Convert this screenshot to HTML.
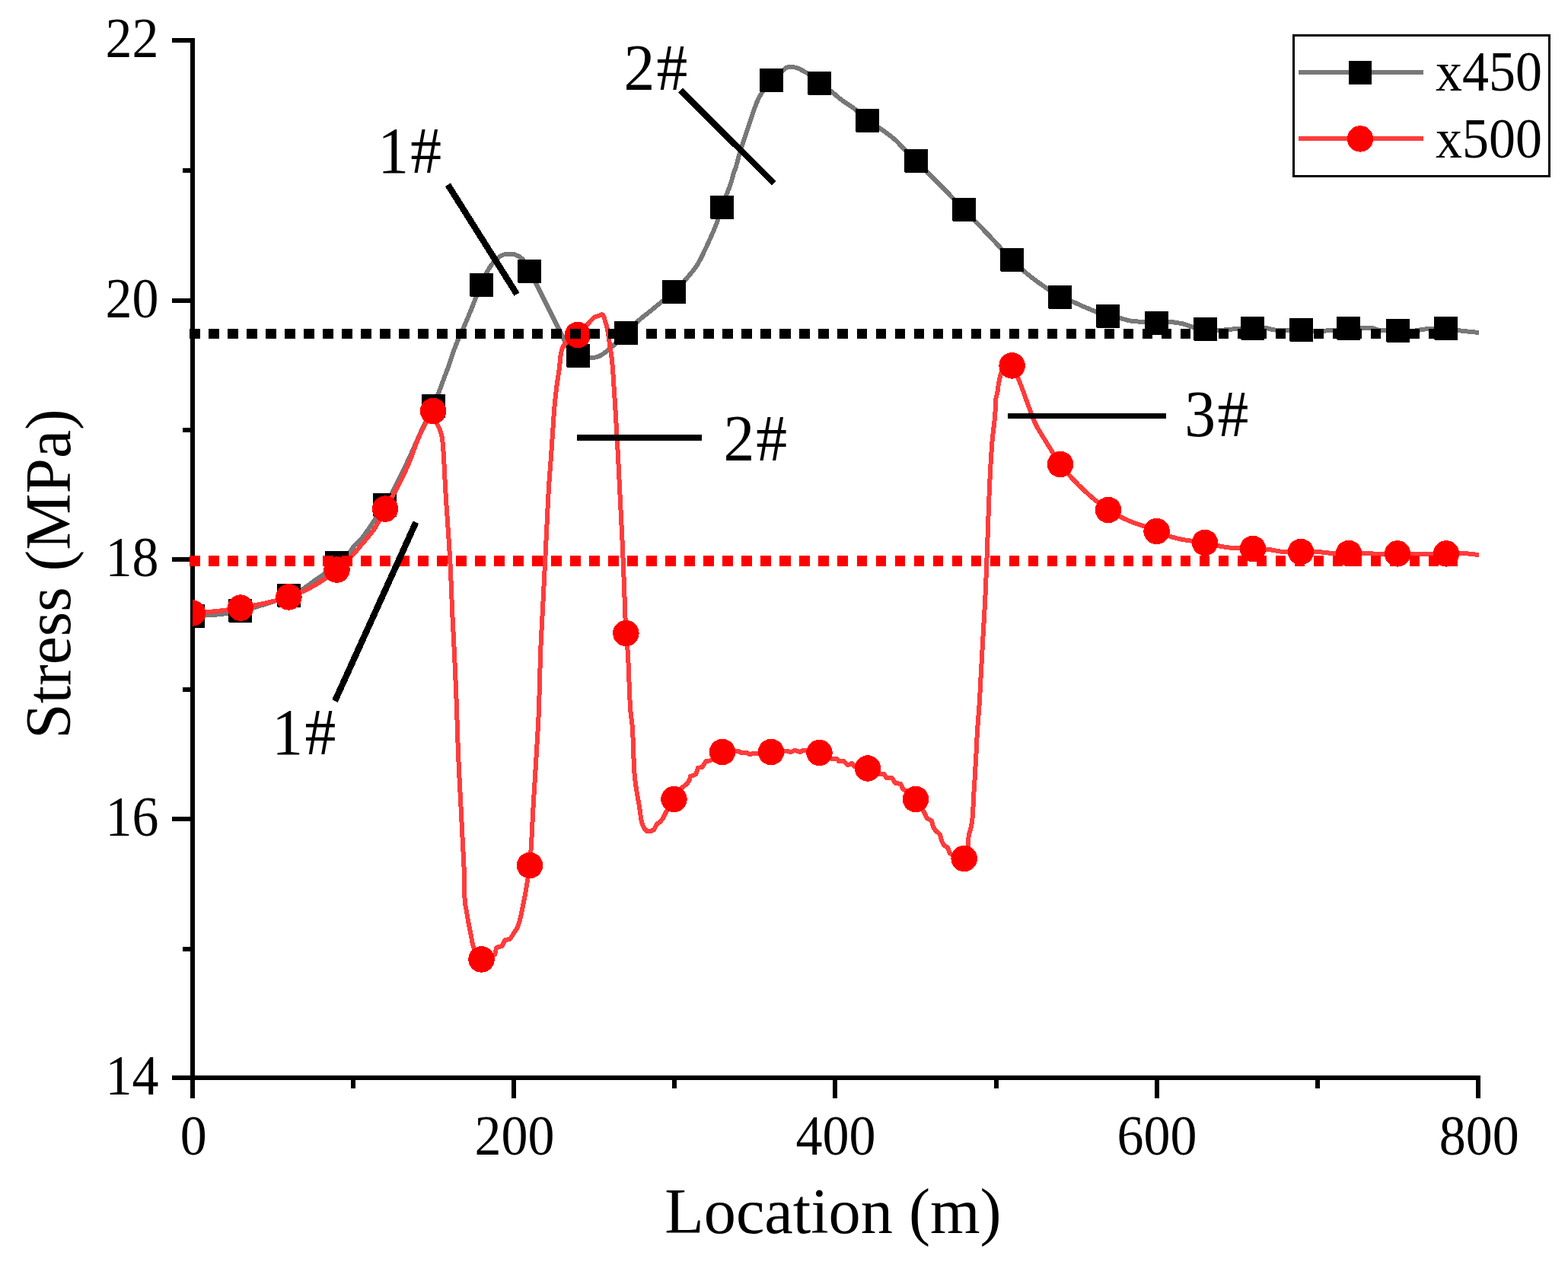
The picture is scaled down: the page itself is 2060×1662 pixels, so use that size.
<!DOCTYPE html>
<html lang="en"><head><meta charset="utf-8"><title>Stress vs Location</title>
<style>
html,body{margin:0;padding:0;background:#fff;}
body{width:2060px;height:1662px;overflow:hidden;}
svg{display:block;}
text{font-family:"Liberation Serif","Times New Roman",Times,serif;fill:#000;}
</style></head><body>
<svg xmlns="http://www.w3.org/2000/svg" width="2060" height="1662" viewBox="0 0 2060 1662" shape-rendering="crispEdges">
<rect x="0" y="0" width="2060" height="1662" fill="#fff"/>
<g fill="#000" shape-rendering="crispEdges">
<rect x="250" y="50" width="6" height="1393"/>
<rect x="226" y="1413" width="1719" height="6"/>
<rect x="226" y="50" width="30" height="6"/>
<rect x="240" y="221" width="16" height="6"/>
<rect x="226" y="392" width="30" height="6"/>
<rect x="240" y="562" width="16" height="6"/>
<rect x="226" y="732" width="30" height="6"/>
<rect x="240" y="903" width="16" height="6"/>
<rect x="226" y="1073" width="30" height="6"/>
<rect x="240" y="1244" width="16" height="6"/>
<rect x="226" y="1413" width="30" height="6"/>
<rect x="250" y="1413" width="6" height="30"/>
<rect x="461" y="1413" width="6" height="17"/>
<rect x="672" y="1413" width="6" height="30"/>
<rect x="883" y="1413" width="6" height="17"/>
<rect x="1094" y="1413" width="6" height="30"/>
<rect x="1306" y="1413" width="6" height="17"/>
<rect x="1517" y="1413" width="6" height="30"/>
<rect x="1728" y="1413" width="6" height="17"/>
<rect x="1939" y="1413" width="6" height="30"/>
</g>
<defs><clipPath id="plot"><rect x="253" y="0" width="1800" height="1416"/></clipPath></defs>
<g clip-path="url(#plot)">
<polyline points="253,809.4 255,809.28 257,809.17 259,809.07 261,808.97 263,808.86 265,808.76 267,808.66 269,808.56 271,808.45 273,808.34 275,808.22 277,808.1 279,807.96 281,807.82 283,807.67 285,807.5 286.94,807.32 288.88,807.12 290.81,806.89 292.75,806.65 294.69,806.38 296.62,806.1 298.56,805.8 300.5,805.48 302.44,805.16 304.38,804.82 306.31,804.47 308.25,804.11 310.19,803.74 312.12,803.36 314.06,802.98 316,802.6 318,802.19 320,801.76 322,801.3 324,800.82 326,800.32 328,799.81 330,799.28 332,798.73 334,798.17 336,797.6 338,797.01 340,796.42 342,795.82 344,795.22 346,794.61 348,794 349.97,793.39 351.94,792.77 353.91,792.14 355.88,791.5 357.84,790.85 359.81,790.18 361.78,789.51 363.75,788.82 365.72,788.11 367.69,787.4 369.66,786.67 371.62,785.92 373.59,785.16 375.56,784.39 377.53,783.6 379.5,782.8 381.33,782.04 383.17,781.26 385,780.46 386.83,779.64 388.67,778.79 390.5,777.9 392.33,776.98 394.17,776.01 396,775 397.88,773.88 399.75,772.66 401.62,771.36 403.5,770 405.38,768.61 407.25,767.22 409.12,765.84 411,764.5 412.88,763.2 414.75,761.91 416.62,760.63 418.5,759.35 420.38,758.06 422.25,756.74 424.12,755.39 426,754 427.83,752.59 429.67,751.13 431.5,749.64 433.33,748.12 435.17,746.58 437,745.04 438.83,743.51 440.67,741.99 442.5,740.5 444.4,739.01 446.3,737.57 448.2,736.12 450.1,734.61 452,733 453.88,731.32 455.75,729.54 457.62,727.63 459.5,725.5 461,723.43 462.5,721.11 464,719 466,716.66 468,714.53 470,712.52 472,710.5 473.5,709.04 475,707.5 476.8,705.35 478.6,702.98 480.4,700.47 482.2,697.88 484,695.3 485.7,692.83 487.4,690.27 489.1,687.69 490.8,685.12 492.5,682.6 494.39,679.92 496.27,677.34 498.16,674.79 500.04,672.23 501.93,669.62 503.81,666.89 505.7,664 507.49,661.09 509.27,658.04 511.06,654.88 512.85,651.61 514.64,648.27 516.42,644.88 518.21,641.45 520,638 521.89,634.32 523.78,630.58 525.67,626.77 527.56,622.91 529.44,619 531.33,615.05 533.22,611.06 535.11,607.04 537,603 538.89,598.9 540.78,594.73 542.67,590.5 544.56,586.23 546.44,581.94 548.33,577.65 550.22,573.38 552.11,569.16 554,565 555.88,560.95 557.75,556.96 559.62,553.02 561.5,549.09 563.38,545.15 565.25,541.17 567.12,537.13 569,533 570.62,529.38 572.25,525.71 573.88,521.93 575.5,518 577.17,513.69 578.85,509.16 580.53,504.56 582.2,500 584.08,495.04 585.95,490.12 587.83,485.14 589.7,480 591.4,475.08 593.1,469.96 594.8,464.86 596.5,460 598.17,455.48 599.83,451.13 601.5,447 603.42,442.56 605.35,438.38 607.28,434.25 609.2,430 610.9,426.1 612.6,422.15 614.3,418.15 616,414.1 617.7,410 619.7,405.05 621.7,399.97 623.7,394.91 625.7,390 627.4,386 629.1,382.09 630.8,378.22 632.5,374.3 634.12,370.37 635.75,366.34 637.38,362.46 639,359 641,355.29 643,351.96 645,349 646.67,346.8 648.33,344.81 650,343 652,340.93 654,339.04 656,337.5 658,336.26 660,335.21 662,334.5 664,334.02 666,333.65 668,333.5 670,333.57 672,333.75 674,334 676,334.44 678,335.15 680,336 682,337.03 684,338.35 686,340 687.67,341.87 689.33,344.27 691,347 692.5,349.93 694,353.29 695.5,356.5 697.2,359.74 698.9,362.81 700.6,365.82 702.3,368.85 704,372 706,375.9 708,379.91 710,383.97 712,388 713.8,391.6 715.6,395.2 717.4,398.8 719.2,402.4 721,406 722.8,409.6 724.6,413.2 726.4,416.8 728.2,420.4 730,424 732,428.02 734,432.06 736,436.07 738,440 740,443.94 742,447.89 744,451.64 746,455 748,458.08 750,460.87 752,463 753.88,464.46 755.75,465.69 757.62,466.7 759.5,467.5 761.38,468.17 763.25,468.75 765.12,469.21 767,469.5 769,469.69 771,469.85 773,469.96 775,470 776.75,469.96 778.5,469.85 780.25,469.7 782,469.5 783.75,469.15 785.5,468.55 787.25,467.81 789,467 791,465.9 793,464.54 795,463.04 797,461.5 799,459.94 801,458.3 803,456.59 805,454.82 807,453 809,451.09 811,449.08 813,447.03 815,445 816.88,443.12 818.75,441.25 820.62,439.38 822.5,437.5 824.44,435.54 826.38,433.55 828.31,431.55 830.25,429.55 832.19,427.58 834.12,425.65 836.06,423.78 838,422 840,420.25 842,418.56 844,416.93 846,415.33 848,413.76 850,412.19 852,410.61 854,409 856,407.37 858,405.74 860,404.1 862,402.46 864,400.83 866,399.21 868,397.59 870,396 871.94,394.5 873.88,393.06 875.81,391.64 877.75,390.22 879.69,388.78 881.62,387.28 883.56,385.69 885.5,384 887.44,382.17 889.38,380.22 891.31,378.16 893.25,376.02 895.19,373.81 897.12,371.56 899.06,369.28 901,367 902.88,364.81 904.75,362.64 906.62,360.45 908.5,358.21 910.38,355.88 912.25,353.42 914.12,350.81 916,348 918,344.69 920,341.04 922,337.1 924,332.96 926,328.69 928,324.34 930,320 932,315.67 934,311.27 936,306.75 938,302.07 940,297.17 942,292 943.62,287.4 945.25,282.42 946.88,277.36 948.5,272.5 950.5,266.89 952.5,261.44 954.5,256 956.5,250.72 958.5,245.44 960.5,239.6 962.1,233.8 963.7,228 965.45,223.18 967.2,218.25 968.45,213.46 969.7,208.5 971.54,202.17 973.38,196.23 975.22,190.53 977.06,184.97 978.9,179.4 980.5,174.65 982.1,169.9 983.77,164.7 985.43,159.41 987.1,154.3 988.53,150.12 989.97,146.08 991.4,142.2 993,137.93 994.6,133.83 996.2,130.2 997.93,126.88 999.67,123.94 1001.4,121.2 1003.33,118.23 1005.27,115.34 1007.2,112.56 1009.13,109.95 1011.07,107.55 1013,105.4 1014.99,103.43 1016.98,101.63 1018.96,99.97 1020.95,98.4 1022.94,96.88 1024.93,95.39 1026.91,93.87 1028.9,92.3 1030.27,91.08 1031.63,89.87 1033,89 1035,88.18 1037,87.8 1038.67,87.86 1040.33,88.01 1042,88.2 1043.77,88.46 1045.53,88.84 1047.3,89.3 1049.1,89.94 1050.9,90.79 1052.7,91.77 1054.5,92.8 1056.3,93.8 1057.9,94.65 1059.5,95.53 1061.1,96.5 1063.02,97.86 1064.95,99.4 1066.88,101.07 1068.8,102.81 1070.72,104.57 1072.65,106.31 1074.58,107.97 1076.5,109.5 1078.44,110.91 1080.38,112.23 1082.31,113.51 1084.25,114.75 1086.19,116 1088.12,117.27 1090.06,118.59 1092,120 1094,121.57 1096,123.25 1098,124.98 1100,126.71 1102,128.4 1104,130 1106,131.49 1108,132.91 1110,134.27 1112,135.6 1114,136.91 1116,138.24 1118,139.59 1120,140.98 1122,142.45 1124,144 1125.94,145.64 1127.88,147.44 1129.81,149.33 1131.75,151.26 1133.69,153.17 1135.62,155.02 1137.56,156.75 1139.5,158.3 1141.44,159.68 1143.38,160.95 1145.31,162.14 1147.25,163.29 1149.19,164.41 1151.12,165.56 1153.06,166.74 1155,168 1156.9,169.28 1158.8,170.58 1160.7,171.89 1162.6,173.22 1164.5,174.57 1166.4,175.96 1168.3,177.4 1170.2,178.87 1172.1,180.41 1174,182 1176,183.78 1178,185.69 1180,187.69 1182,189.76 1184,191.85 1186,193.94 1188,196 1189.88,197.92 1191.75,199.86 1193.62,201.82 1195.5,203.78 1197.38,205.74 1199.25,207.69 1201.12,209.61 1203,211.5 1204.88,213.36 1206.75,215.18 1208.62,216.99 1210.5,218.78 1212.38,220.57 1214.25,222.37 1216.12,224.17 1218,226 1220,227.97 1222,229.94 1224,231.92 1226,233.91 1228,235.9 1230,237.9 1232,239.91 1234,241.92 1236,243.94 1238,245.97 1240,248 1241.89,249.93 1243.79,251.87 1245.68,253.83 1247.57,255.79 1249.46,257.75 1251.36,259.72 1253.25,261.69 1255.14,263.67 1257.04,265.65 1258.93,267.62 1260.82,269.6 1262.71,271.57 1264.61,273.54 1266.5,275.5 1268.47,277.53 1270.44,279.57 1272.41,281.59 1274.38,283.62 1276.34,285.64 1278.31,287.66 1280.28,289.68 1282.25,291.7 1284.22,293.72 1286.19,295.75 1288.16,297.78 1290.12,299.81 1292.09,301.85 1294.06,303.89 1296.03,305.94 1298,308 1299.97,310.07 1301.94,312.17 1303.91,314.29 1305.88,316.41 1307.84,318.55 1309.81,320.7 1311.78,322.84 1313.75,324.98 1315.72,327.12 1317.69,329.24 1319.66,331.35 1321.62,333.43 1323.59,335.5 1325.56,337.53 1327.53,339.53 1329.5,341.5 1331.44,343.41 1333.38,345.29 1335.31,347.16 1337.25,348.99 1339.19,350.8 1341.12,352.57 1343.06,354.31 1345,356 1346.88,357.6 1348.75,359.17 1350.62,360.7 1352.5,362.21 1354.38,363.69 1356.25,365.15 1358.12,366.58 1360,368 1361.89,369.4 1363.78,370.78 1365.67,372.13 1367.56,373.47 1369.44,374.79 1371.33,376.09 1373.22,377.4 1375.11,378.7 1377,380 1378.94,381.38 1380.88,382.81 1382.81,384.26 1384.75,385.69 1386.69,387.06 1388.62,388.35 1390.56,389.5 1392.5,390.5 1394.44,391.34 1396.38,392.09 1398.31,392.76 1400.25,393.39 1402.19,394.01 1404.12,394.63 1406.06,395.28 1408,396 1410,396.81 1412,397.66 1414,398.54 1416,399.43 1418,400.34 1420,401.25 1422,402.14 1424,403 1425.89,403.8 1427.78,404.6 1429.67,405.4 1431.56,406.19 1433.44,406.97 1435.33,407.74 1437.22,408.51 1439.11,409.26 1441,410 1442.88,410.75 1444.75,411.52 1446.62,412.29 1448.5,413.05 1450.38,413.77 1452.25,414.43 1454.12,415.01 1456,415.5 1457.88,415.9 1459.75,416.24 1461.62,416.54 1463.5,416.82 1465.38,417.08 1467.25,417.36 1469.12,417.66 1471,418 1472.89,418.41 1474.78,418.89 1476.67,419.4 1478.56,419.94 1480.44,420.47 1482.33,420.96 1484.22,421.4 1486.11,421.75 1488,422 1490,422.18 1492,422.32 1494,422.44 1496,422.54 1498,422.64 1500,422.75 1502,422.86 1504,423 1505.94,423.18 1507.88,423.4 1509.81,423.65 1511.75,423.9 1513.69,424.13 1515.62,424.32 1517.56,424.45 1519.5,424.5 1521.44,424.44 1523.38,424.27 1525.31,424.03 1527.25,423.75 1529.19,423.47 1531.12,423.23 1533.06,423.06 1535,423 1536.89,423.04 1538.78,423.14 1540.67,423.3 1542.56,423.51 1544.44,423.77 1546.33,424.05 1548.22,424.36 1550.11,424.68 1552,425 1554,425.43 1556,426.01 1558,426.68 1560,427.41 1562,428.15 1564,428.86 1566,429.49 1568,430 1569.88,430.39 1571.75,430.76 1573.62,431.1 1575.5,431.42 1577.38,431.72 1579.25,432 1581.12,432.26 1583,432.5 1584.88,432.74 1586.75,433 1588.62,433.25 1590.5,433.48 1592.38,433.69 1594.25,433.85 1596.12,433.96 1598,434 1600,433.98 1602,433.91 1604,433.81 1606,433.68 1608,433.52 1610,433.35 1612,433.16 1614,432.97 1616,432.77 1618,432.58 1620,432.41 1622,432.25 1624,432.11 1626,432 1628,431.91 1630,431.83 1632,431.74 1634,431.67 1636,431.6 1638,431.53 1640,431.47 1642,431.41 1644,431.35 1646,431.3 1647.88,431.25 1649.75,431.2 1651.62,431.15 1653.5,431.1 1655.38,431.06 1657.25,431.03 1659.12,431.01 1661,431 1662.88,431.1 1664.75,431.38 1666.62,431.77 1668.5,432.22 1670.38,432.69 1672.25,433.11 1674.12,433.43 1676,433.6 1678,433.68 1680,433.75 1682,433.81 1684,433.87 1686,433.91 1688,433.95 1690,433.98 1692,433.99 1694,434 1695.88,433.96 1697.75,433.84 1699.62,433.68 1701.5,433.5 1703.38,433.32 1705.25,433.16 1707.12,433.04 1709,433 1710.88,433.09 1712.75,433.31 1714.62,433.63 1716.5,434 1718.38,434.37 1720.25,434.69 1722.12,434.91 1724,435 1725.93,434.99 1727.86,434.97 1729.79,434.94 1731.71,434.89 1733.64,434.84 1735.57,434.77 1737.5,434.7 1739.43,434.62 1741.36,434.53 1743.29,434.43 1745.21,434.33 1747.14,434.22 1749.07,434.11 1751,434 1752.91,433.85 1754.82,433.63 1756.73,433.37 1758.64,433.07 1760.55,432.75 1762.45,432.42 1764.36,432.11 1766.27,431.83 1768.18,431.59 1770.09,431.41 1772,431.3 1773.88,431.24 1775.75,431.18 1777.62,431.13 1779.5,431.09 1781.38,431.05 1783.25,431.02 1785.12,431.01 1787,431 1789,431 1791,431 1793,431 1795,431 1797,431 1799,431 1801,431 1802.86,431.16 1804.71,431.56 1806.57,432.12 1808.43,432.74 1810.29,433.32 1812.14,433.77 1814,434 1815.88,434.07 1817.75,434.14 1819.62,434.19 1821.5,434.23 1823.38,434.27 1825.25,434.3 1827.12,434.33 1829,434.35 1830.88,434.38 1832.75,434.42 1834.62,434.45 1836.5,434.5 1838.44,434.56 1840.38,434.64 1842.31,434.72 1844.25,434.8 1846.19,434.88 1848.12,434.94 1850.06,434.98 1852,435 1853.92,434.96 1855.85,434.83 1857.77,434.64 1859.69,434.4 1861.62,434.12 1863.54,433.81 1865.46,433.49 1867.38,433.17 1869.31,432.85 1871.23,432.57 1873.15,432.32 1875.08,432.13 1877,432 1878.92,431.91 1880.83,431.82 1882.75,431.73 1884.67,431.65 1886.58,431.58 1888.5,431.51 1890.42,431.45 1892.33,431.4 1894.25,431.36 1896.17,431.33 1898.08,431.31 1900,431.3 1901.88,431.39 1903.75,431.62 1905.62,431.97 1907.5,432.39 1909.38,432.84 1911.25,433.29 1913.12,433.69 1915,434 1917,434.27 1919,434.52 1921,434.76 1923,434.98 1925,435.2 1927,435.41 1929,435.61 1931,435.8 1933,436 1935,436.19 1937,436.39 1939,436.59 1941,436.79 1943,437" fill="none" stroke="#787878" stroke-width="6" stroke-linejoin="round" stroke-linecap="butt"/>
<g fill="#000">
<path d="M238 794h31v30l-1 1h-29l-1 -1z"/>
<path d="M300 787h31v30l-1 1h-29l-1 -1z"/>
<path d="M364 767h31v30l-1 1h-29l-1 -1z"/>
<path d="M427 724h31v30l-1 1h-29l-1 -1z"/>
<path d="M490 648h31v30l-1 1h-29l-1 -1z"/>
<path d="M554 518h31v30l-1 1h-29l-1 -1z"/>
<path d="M617 359h31v30l-1 1h-29l-1 -1z"/>
<path d="M680 341h31v30l-1 1h-29l-1 -1z"/>
<path d="M744 452h31v30l-1 1h-29l-1 -1z"/>
<path d="M807 422h31v30l-1 1h-29l-1 -1z"/>
<path d="M870 368h31v30l-1 1h-29l-1 -1z"/>
<path d="M933 257h31v30l-1 1h-29l-1 -1z"/>
<path d="M998 90h31v30l-1 1h-29l-1 -1z"/>
<path d="M1061 94h31v30l-1 1h-29l-1 -1z"/>
<path d="M1124 143h31v30l-1 1h-29l-1 -1z"/>
<path d="M1188 196h31v30l-1 1h-29l-1 -1z"/>
<path d="M1251 260h31v30l-1 1h-29l-1 -1z"/>
<path d="M1314 326h31v30l-1 1h-29l-1 -1z"/>
<path d="M1377 375h31v30l-1 1h-29l-1 -1z"/>
<path d="M1440 400h31v30l-1 1h-29l-1 -1z"/>
<path d="M1504 409h31v30l-1 1h-29l-1 -1z"/>
<path d="M1568 417h31v30l-1 1h-29l-1 -1z"/>
<path d="M1630 416h31v30l-1 1h-29l-1 -1z"/>
<path d="M1694 418h31v30l-1 1h-29l-1 -1z"/>
<path d="M1756 416h31v30l-1 1h-29l-1 -1z"/>
<path d="M1821 419h31v30l-1 1h-29l-1 -1z"/>
<path d="M1884 416h31v30l-1 1h-29l-1 -1z"/>
</g>
<polyline points="253,805.5 254,805.42 255,805.35 256,805.27 257,805.2 258,805.12 259,805.05 260,804.98 261,804.91 262,804.84 263,804.77 264,804.7 265,804.63 266,804.56 267,804.48 268,804.41 269,804.34 270,804.27 271,804.19 272,804.12 273,804.04 274,803.97 275,803.89 276,803.81 277,803.73 278,803.64 279,803.56 280,803.47 281,803.38 282,803.29 283,803.2 284,803.1 285,803 286,802.9 287,802.79 288,802.68 289,802.57 290,802.45 291,802.33 292,802.2 293,802.08 294,801.95 295,801.81 296,801.68 297,801.54 298,801.4 299,801.26 300,801.11 301,800.97 302,800.82 303,800.67 304,800.51 305,800.36 306,800.2 307,800.05 308,799.89 309,799.73 310,799.57 311,799.41 312,799.25 313,799.09 314,798.92 315,798.76 316,798.6 317,798.44 318,798.27 319,798.1 320,797.94 321,797.77 322,797.59 323,797.42 324,797.24 325,797.07 326,796.89 327,796.71 328,796.52 329,796.34 330,796.15 331,795.97 332,795.78 333,795.59 334,795.39 335,795.2 336,795 337,794.8 338,794.6 339,794.4 340,794.2 341,793.99 342,793.78 343,793.57 344,793.36 345,793.15 346,792.94 347,792.72 348,792.5 348.98,792.28 349.96,792.07 350.94,791.85 351.93,791.63 352.91,791.41 353.89,791.19 354.87,790.96 355.85,790.74 356.83,790.51 357.81,790.28 358.79,790.05 359.77,789.81 360.76,789.58 361.74,789.34 362.72,789.09 363.7,788.85 364.68,788.6 365.66,788.35 366.64,788.09 367.62,787.83 368.61,787.57 369.59,787.31 370.57,787.03 371.55,786.76 372.53,786.48 373.51,786.2 374.49,785.91 375.47,785.62 376.46,785.32 377.44,785.02 378.42,784.71 379.4,784.4 380.38,784.08 381.36,783.75 382.34,783.41 383.32,783.06 384.3,782.7 385.29,782.33 386.27,781.96 387.25,781.57 388.23,781.18 389.21,780.78 390.19,780.38 391.17,779.96 392.15,779.54 393.13,779.12 394.11,778.69 395.1,778.25 396.08,777.81 397.06,777.36 398.04,776.91 399.02,776.46 400,776 401,775.53 402,775.05 403,774.56 404,774.06 405,773.55 406,773.04 407,772.51 408,771.98 409,771.44 410,770.9 411,770.34 412,769.78 413,769.21 414,768.63 415,768.04 416,767.45 417,766.85 418,766.24 419,765.62 420,765 420.98,764.38 421.96,763.75 422.93,763.11 423.91,762.46 424.89,761.8 425.87,761.14 426.85,760.46 427.83,759.77 428.8,759.07 429.78,758.37 430.76,757.65 431.74,756.93 432.72,756.2 433.7,755.46 434.67,754.72 435.65,753.96 436.63,753.2 437.61,752.44 438.59,751.66 439.57,750.88 440.54,750.09 441.52,749.3 442.5,748.5 443.5,747.67 444.5,746.84 445.5,745.99 446.5,745.13 447.5,744.26 448.5,743.38 449.5,742.49 450.5,741.59 451.5,740.68 452.5,739.76 453.5,738.82 454.5,737.88 455.5,736.93 456.5,735.97 457.5,735 458.5,734.02 459.5,733.03 460.5,732.03 461.5,731.02 462.5,730 463.5,728.96 464.5,727.87 465.5,726.76 466.5,725.64 467.5,724.5 468.5,723.35 469.5,722.17 470.5,720.99 471.5,719.79 472.5,718.6 473.42,717.51 474.33,716.4 475.25,715.3 476.17,714.2 477.08,713.1 478,712 478.92,710.92 479.83,709.84 480.75,708.77 481.67,707.69 482.58,706.6 483.5,705.5 484.4,704.42 485.3,703.35 486.2,702.28 487.1,701.2 488,700.11 488.9,698.98 489.8,697.81 490.7,696.59 491.6,695.3 492.5,693.92 493.4,692.44 494.3,690.88 495.2,689.27 496.1,687.64 497,686 498,684.15 499,682.25 500,680.3 501,678.33 502,676.35 503,674.37 504,672.4 505,670.48 506,668.6 507,666.77 508,664.99 509,663.23 510,661.5 511,659.78 512,658.08 513,656.38 514,654.67 515,652.96 516,651.23 517,649.47 518,647.69 519,645.87 520,644 521,642.1 522,640.2 523,638.28 524,636.34 525,634.39 526,632.42 527,630.43 528,628.42 529,626.38 530,624.32 531,622.23 532,620.11 533,617.96 534,615.77 535,613.55 536,611.3 537,609 538,606.61 539,604.1 540,601.49 541,598.8 542,596.06 543,593.29 544,590.51 545,587.75 546,585.02 547,582.36 548,579.79 549,577.33 550,575 551,572.78 552,570.62 553,568.51 554,566.46 555,564.45 556,562.49 557,560.57 558,558.68 559,556.83 560,555 561,553.05 562,550.91 563,548.69 564,546.5 565,544.46 566,542.68 567,541.27 568,540.34 569,540 570,541.24 571,544.37 572,548.48 573,552.66 574,556 575,558.35 576,560.4 577,562.5 578,565 579,567.81 580,571.19 581,576 582,585.71 583,600 584,619.4 585,640 586,656.21 587,670.8 588,684.99 589,700 590,715.49 591,731.55 592,750 593,774.47 594,800 595,820.72 596,839.85 597,860 598,881.84 599,904.87 600,930 601,960.54 602,990 603,1011.92 604,1030.96 605,1050 606,1070 607,1090 608,1110 609,1126.67 610,1150 610.5,1180 611.5,1189.81 612.5,1195 613.38,1200.48 614.25,1205.54 615.12,1210.33 616,1215 617,1220.12 618,1225.03 619,1230 619.83,1234.75 620.67,1239.56 621.5,1243 622.5,1245.66 623.5,1248.17 624.5,1250.51 625.5,1252.65 626.5,1254.58 627.5,1256.27 628.5,1257.7 629.5,1258.85 630.5,1259.7 631.5,1260.22 632.5,1260.4 633.47,1260.39 634.44,1260.34 635.42,1260.26 636.39,1260.15 637.36,1260.01 638.33,1259.82 639.31,1259.6 640.28,1259.33 641.25,1259.02 642.22,1258.67 643.19,1258.27 644.17,1257.82 645.14,1257.32 646.11,1256.77 647.08,1256.16 648.06,1255.5 649.03,1254.78 650,1254 650.83,1251.48 651.67,1247.42 652.5,1245 653.43,1244.51 654.36,1244.19 655.29,1243.99 656.21,1243.83 657.14,1243.65 658.07,1243.4 659,1243 660,1241.88 661,1239.97 662,1237.82 663,1235.97 664,1235 665,1234.72 666,1234.56 667,1234.43 668,1234.26 669,1234 670,1233.37 671,1232.27 672,1230.84 673,1229.22 674,1227.56 675,1226 676,1224.58 677,1223.18 678,1221.68 679,1219.99 680,1218 681,1215.49 682,1212.4 683,1208.86 684,1205 685,1200.45 686,1195.23 687,1190 688,1185.11 689,1180.22 690,1175 691,1169.13 692,1163 692.75,1158.56 693.5,1154 694.33,1148.94 695.17,1143.62 696,1137 697,1125.24 698,1110 699,1090.54 700,1070 701,1052.61 702,1036.31 703,1020 704,1003.59 705,987.19 706,970 707,952.76 708,932 709,896.34 710,860 711,837.24 712,818.62 713,800 714,780 715,760 716,740 717,720 718,700 719,679.11 720,658.22 721,640 722,625.67 723,613.11 724,600 725,585.21 726,570 727,554.34 728,540 729,528.67 730,519 730.87,511.63 731.73,504.97 732.6,498.7 733.4,493.54 734.2,488.69 735,483 735.75,475.11 736.5,467.7 737.25,463.15 738,460 739,457.23 740,455.03 741,453.32 742,452 743,450.94 744,450.03 745,449.25 746,448.56 747,447.92 748,447.3 749,446.67 750,446 751,445.32 752,444.67 753,444.04 754,443.43 755,442.81 756,442.17 757,441.5 758,440.78 759,440 759.96,439.18 760.92,438.29 761.88,437.33 762.85,436.33 763.81,435.28 764.77,434.2 765.73,433.1 766.69,431.98 767.65,430.86 768.62,429.74 769.58,428.63 770.54,427.55 771.5,426.5 772.39,425.55 773.27,424.59 774.16,423.64 775.04,422.69 775.93,421.75 776.81,420.82 777.7,419.9 778.48,419.05 779.25,418.16 780.02,417.37 780.8,416.8 781.72,416.37 782.64,416.04 783.56,415.76 784.48,415.49 785.4,415.2 786.17,414.93 786.95,414.66 787.73,414.38 788.5,414.1 789.4,413.75 790.3,413.4 790.9,413.2 791.6,413.6 792.4,414.38 793.2,415.6 794,417.99 794.8,421 795.57,423.46 796.33,425.93 797.1,428.8 797.85,432.41 798.6,436.6 799.4,441.44 800.2,446.67 801,452 801.77,456.95 802.53,462.02 803.3,467.7 804.1,474.58 804.9,483 805.65,494.14 806.4,506.5 807.2,518.1 808,530 809,547.1 810,565 811,582.23 812,600 813,619.37 814,639.69 815,660 816,679.47 817,698.94 818,720 819,744.25 820,770 820.8,792.39 821.6,815.01 822.4,832 823.27,842.33 824.13,850.06 825,860 826,881.65 827,909.13 828,930 828.8,938.53 829.6,944.5 830.4,950.71 831.2,960 832.1,985.18 833,1010 833.88,1020.4 834.75,1028.07 835.62,1034.22 836.5,1040 837.38,1045.49 838.25,1050.3 839.12,1054.97 840,1060 841,1067.16 842,1074.65 843,1080 844,1083.13 845,1085.64 846,1087.58 847,1089 847.9,1090.04 848.8,1090.99 849.7,1091.77 850.6,1092.3 851.5,1092.5 852.44,1092.45 853.38,1092.32 854.31,1092.11 855.25,1091.81 856.19,1091.45 857.12,1091.03 858.06,1090.54 859,1090 860,1088.76 861,1086.72 862,1084.57 863,1083 864,1082.12 865,1081.44 866,1080.8 867,1080 868,1078.98 869,1077.81 870,1076.48 871,1075 872,1073.16 873,1071.03 874,1069 874.96,1067.25 875.92,1065.55 876.88,1063.87 877.83,1062.24 878.79,1060.63 879.75,1059.05 880.71,1057.5 881.67,1055.96 882.62,1054.45 883.58,1052.95 884.54,1051.47 885.5,1050 886.45,1048.52 887.41,1047.03 888.36,1045.53 889.32,1044.03 890.27,1042.56 891.23,1041.13 892.18,1039.75 893.14,1038.43 894.09,1037.19 895.05,1036.04 896,1035 897,1034.07 898,1033.28 899,1032.55 900,1031.81 901,1030.99 902,1030 903,1028.9 904,1027.65 905,1026.08 906,1024 907,1020 908,1019.51 909,1019.28 910,1019 911,1018.63 912,1018.25 913,1017.74 914,1017 915,1014.96 916,1012 917,1009 918,1008.66 919,1008.49 920,1008.4 921,1008.27 922,1008 923,1007.09 924,1005.55 925,1004 926,1002.42 927,1000.85 928,1000 929,999.82 930,999.72 931,999.64 932,999.5 933,999.23 934,998.79 935,998.22 936,997.54 937,996.75 938,995.9 939,994.99 940,994.06 941,993.12 942,992.19 943,991.31 944,990.48 945,989.73 946,989.09 947,988.57 948,988.2 949,988 950,987.89 951,987.79 952,987.7 953,987.61 954,987.52 955,987.44 956,987.37 957,987.3 958,987.24 959,987.19 960,987.14 961,987.1 962,987.06 963,987.04 964,987.02 965,987 966,987 967,987 968,987 969,987 970,987 971,987.31 972,988 973,988.69 974,989 975,988.96 976,988.87 977,988.75 978,988.63 979,988.54 980,988.5 981,988.76 982,989.38 983,990.12 984,990.74 985,991 986,990.92 987,990.7 988,990.41 989,990.09 990,989.8 991,989.58 992,989.5 993,989.63 994,989.87 995,990 996,989.99 997,989.95 998,989.89 999,989.81 1000,989.71 1001,989.6 1002,989.48 1003,989.34 1004,989.2 1005,989.06 1006,988.91 1007,988.76 1008,988.61 1009,988.47 1010,988.34 1011,988.21 1012,988.1 1013,988 1014,987.91 1015,987.81 1016,987.71 1017,987.61 1018,987.51 1019,987.41 1020,987.31 1021,987.21 1022,987.12 1023,987.03 1024,986.94 1025,986.86 1026,986.78 1027,986.71 1028,986.65 1029,986.6 1030,986.56 1031,986.53 1032,986.51 1033,986.5 1034,986.66 1035,987.03 1036,987.47 1037,987.84 1038,988 1039,987.89 1040,987.6 1041,987.21 1042,986.79 1043,986.4 1044,986.11 1045,986 1046,986.15 1047,986.52 1048,987 1049,987.48 1050,987.85 1051,988 1052,987.72 1053,987.1 1054,986.48 1055,986.2 1055.98,986.21 1056.95,986.23 1057.93,986.27 1058.91,986.32 1059.89,986.39 1060.86,986.47 1061.84,986.56 1062.82,986.67 1063.8,986.78 1064.77,986.91 1065.75,987.04 1066.73,987.19 1067.7,987.34 1068.68,987.5 1069.66,987.67 1070.64,987.85 1071.61,988.03 1072.59,988.22 1073.57,988.41 1074.55,988.6 1075.52,988.8 1076.5,989 1077.47,989.25 1078.44,989.59 1079.42,990.01 1080.39,990.5 1081.36,991.03 1082.33,991.61 1083.31,992.21 1084.28,992.83 1085.25,993.45 1086.22,994.06 1087.19,994.65 1088.17,995.19 1089.14,995.69 1090.11,996.13 1091.08,996.49 1092.06,996.77 1093.03,996.94 1094,997 1095,997 1096,997 1097,997 1098,997 1099,997 1100,997.55 1101,998.75 1102,999.95 1103,1000.5 1104,1000.45 1105,1000.32 1106,1000.18 1107,1000.05 1108,1000 1109,1000.37 1110,1001.3 1111,1002.5 1112,1003.7 1113,1004.63 1114,1005 1115,1004.79 1116,1004.3 1117,1003.7 1118,1003.21 1119,1003 1120,1003.57 1121,1004.85 1122,1006.2 1123,1007 1124,1007.28 1125,1007.52 1126,1007.72 1127,1007.89 1128,1008.04 1129,1008.16 1130,1008.27 1131,1008.36 1132,1008.45 1133,1008.54 1134,1008.63 1135,1008.72 1136,1008.83 1137,1008.96 1138,1009.11 1139,1009.29 1140,1009.5 1141,1009.79 1142,1010.19 1143,1010.69 1144,1011.26 1145,1011.9 1146,1012.57 1147,1013.26 1148,1013.96 1149,1014.64 1150,1015.29 1151,1015.89 1152,1016.42 1153,1016.87 1154,1017.21 1155,1017.42 1156,1017.5 1157,1017.45 1158,1017.32 1159,1017.18 1160,1017.05 1161,1017 1162,1017.78 1163,1019.5 1164,1021.22 1165,1022 1166,1022 1167,1022 1168,1022 1169,1022 1170,1022 1171,1022 1172,1022.48 1173,1023.69 1174,1025.28 1175,1026.93 1176,1028.28 1177,1029 1178,1029.23 1179,1029.37 1180,1029.46 1181,1029.57 1182,1029.73 1183,1030 1184,1031.46 1185,1034.02 1186,1036 1187,1036.95 1188,1037.66 1189,1038.3 1190,1039 1191,1039.78 1192,1040.54 1193,1041.3 1194,1042.05 1195,1042.81 1196,1043.59 1197,1044.38 1198,1045.21 1199,1046.07 1200,1046.97 1201,1047.92 1202,1048.93 1203,1050 1203.96,1051.11 1204.92,1052.33 1205.88,1053.63 1206.83,1055.02 1207.79,1056.48 1208.75,1058.01 1209.71,1059.59 1210.67,1061.22 1211.62,1062.88 1212.58,1064.57 1213.54,1066.28 1214.5,1068 1215.38,1069.81 1216.25,1071.83 1217.12,1073.69 1218,1075 1219,1075.85 1220,1076.41 1221,1076.84 1222,1077.3 1223,1077.97 1224,1079 1225,1082.27 1226,1086 1227,1087.96 1228,1089.54 1229,1090.84 1230,1092 1230.9,1092.85 1231.8,1093.5 1232.7,1094.12 1233.6,1094.9 1234.5,1096 1235.33,1098.16 1236.17,1101.28 1237,1104 1238,1106.39 1239,1108.47 1240,1110 1241,1110.98 1242,1111.67 1243,1112.27 1244,1112.98 1245,1114 1246,1116.19 1247,1119.11 1248,1121 1248.98,1121.75 1249.97,1122.45 1250.95,1123.1 1251.94,1123.72 1252.92,1124.29 1253.91,1124.81 1254.89,1125.3 1255.87,1125.74 1256.86,1126.14 1257.84,1126.5 1258.83,1126.82 1259.81,1127.1 1260.79,1127.34 1261.78,1127.55 1262.76,1127.71 1263.75,1127.84 1264.73,1127.93 1265.72,1127.98 1266.7,1128 1267.58,1127.55 1268.47,1126.17 1269.35,1123.78 1270.23,1120.34 1271.12,1115.76 1272,1110 1272.5,1100 1273.33,1095.34 1274.17,1092.8 1275,1090 1276,1085.62 1277,1080 1278,1070 1278.5,1060 1279,1050 1279.5,1040 1280.5,1025 1281,1015 1282,1000 1283,979.84 1284,960 1285,946.1 1286,934.12 1287,920 1288,900 1288.88,883.52 1289.75,867.57 1290.62,851.84 1291.5,836 1292.38,820.58 1293.25,805.54 1294.12,789.74 1295,772 1296,747.12 1297,720 1298,692.23 1299,664.22 1300,640 1300.88,622.24 1301.75,606 1302.62,591.76 1303.5,580 1304.33,571.5 1305.15,564.6 1305.97,557.9 1306.8,550 1307.6,540 1308.2,525 1308.9,520.92 1309.6,518.76 1310.3,516 1310.9,511.6 1311.5,507 1312.35,502.17 1313.2,498 1313.9,494.75 1314.6,492 1315.55,488.96 1316.5,487 1317.44,486.08 1318.37,485.24 1319.31,484.46 1320.24,483.75 1321.18,483.11 1322.11,482.54 1323.05,482.03 1323.99,481.6 1324.92,481.23 1325.86,480.93 1326.79,480.7 1327.73,480.53 1328.66,480.43 1329.6,480.4 1330.53,480.79 1331.47,481.87 1332.4,483.51 1333.33,485.59 1334.27,487.98 1335.2,490.54 1336.13,493.15 1337.07,495.68 1338,498 1339,500.39 1340,502.88 1341,505.45 1342,508.1 1343,510.8 1344,513.55 1345,516.32 1346,519.1 1347,521.87 1348,524.62 1349,527.34 1350,530 1351,532.67 1352,535.4 1353,538.17 1354,540.94 1355,543.68 1356,546.36 1357,548.97 1358,551.46 1359,553.82 1360,556 1361,558.04 1362,560 1363,561.87 1364,563.67 1365,565.42 1366,567.11 1367,568.77 1368,570.39 1369,571.99 1370,573.58 1371,575.16 1372,576.75 1373,578.36 1374,580 1375,581.64 1376,583.27 1377,584.89 1378,586.5 1379,588.09 1380,589.68 1381,591.27 1382,592.85 1383,594.42 1384,596 1385,597.59 1386,599.21 1387,600.83 1388,602.44 1389,604.04 1390,605.61 1391,607.13 1392,608.6 1393,610 1394,611.34 1395,612.66 1396,613.94 1397,615.2 1398,616.44 1399,617.65 1400,618.84 1401,620.02 1402,621.17 1403,622.31 1404,623.44 1405,624.55 1406,625.66 1407,626.75 1408,627.84 1409,628.92 1410,630 1411,631.07 1412,632.13 1413,633.18 1414,634.21 1415,635.24 1416,636.25 1417,637.25 1418,638.24 1419,639.22 1420,640.2 1421,641.16 1422,642.12 1423,643.06 1424,644 1425,644.93 1426,645.86 1427,646.77 1428,647.68 1429,648.59 1430,649.48 1431,650.37 1432,651.25 1433,652.13 1434,652.99 1435,653.85 1436,654.7 1437,655.54 1438,656.37 1439,657.19 1440,658 1441,658.81 1442,659.61 1443,660.41 1444,661.21 1445,662 1446,662.79 1447,663.56 1448,664.33 1449,665.09 1450,665.83 1451,666.57 1452,667.28 1453,667.99 1454,668.68 1455,669.35 1456,670 1457,670.64 1458,671.26 1459,671.88 1460,672.48 1461,673.07 1462,673.65 1463,674.23 1464,674.79 1465,675.34 1466,675.89 1467,676.43 1468,676.96 1469,677.48 1470,677.99 1471,678.5 1472,679 1473,679.5 1474,679.99 1475,680.47 1476,680.95 1477,681.43 1478,681.9 1479,682.36 1480,682.82 1481,683.27 1482,683.72 1483,684.15 1484,684.58 1485,685.01 1486,685.42 1487,685.83 1488,686.23 1489,686.62 1490,687 1491,687.37 1492,687.72 1493,688.06 1494,688.39 1495,688.71 1496,689.03 1497,689.34 1498,689.66 1499,689.98 1500,690.31 1501,690.65 1502,691 1502.98,691.36 1503.96,691.72 1504.93,692.09 1505.91,692.47 1506.89,692.86 1507.87,693.25 1508.84,693.64 1509.82,694.04 1510.8,694.44 1511.78,694.84 1512.76,695.24 1513.73,695.64 1514.71,696.04 1515.69,696.44 1516.67,696.84 1517.64,697.23 1518.62,697.62 1519.6,698 1520.57,698.38 1521.54,698.76 1522.51,699.15 1523.47,699.55 1524.44,699.94 1525.41,700.33 1526.38,700.73 1527.35,701.12 1528.32,701.51 1529.28,701.9 1530.25,702.28 1531.22,702.65 1532.19,703.02 1533.16,703.38 1534.13,703.73 1535.09,704.06 1536.06,704.39 1537.03,704.7 1538,705 1539,705.3 1540,705.59 1541,705.88 1542,706.16 1543,706.44 1544,706.71 1545,706.98 1546,707.23 1547,707.49 1548,707.73 1549,707.96 1550,708.19 1551,708.41 1552,708.61 1553,708.81 1554,709 1555,709.18 1556,709.35 1557,709.51 1558,709.67 1559,709.81 1560,709.96 1561,710.1 1562,710.23 1563,710.36 1564,710.48 1565,710.6 1566,710.72 1567,710.84 1568,710.96 1569,711.08 1570,711.19 1571,711.31 1572,711.43 1573,711.55 1574,711.67 1575,711.8 1576,711.93 1577,712.07 1578,712.21 1579,712.35 1580,712.5 1581,712.66 1582,712.83 1583,713 1584,713.19 1585,713.39 1586,713.61 1587,713.84 1588,714.09 1589,714.34 1590,714.59 1591,714.86 1592,715.12 1593,715.38 1594,715.64 1595,715.89 1596,716.14 1597,716.37 1598,716.6 1599,716.81 1600,717 1601,717.19 1602,717.37 1603,717.56 1604,717.74 1605,717.93 1606,718.11 1607,718.29 1608,718.47 1609,718.64 1610,718.8 1611,718.96 1612,719.12 1613,719.26 1614,719.4 1615,719.53 1616,719.65 1617,719.75 1618,719.85 1619,719.93 1620,720 1621,720.06 1622,720.12 1623,720.17 1624,720.22 1625,720.27 1626,720.31 1627,720.35 1628,720.39 1629,720.43 1630,720.46 1631,720.5 1632,720.53 1633,720.56 1634,720.59 1635,720.62 1636,720.65 1637,720.68 1638,720.71 1639,720.74 1640,720.78 1641,720.81 1642,720.84 1643,720.88 1644,720.92 1645,720.96 1646,721 1647,721.04 1648,721.09 1649,721.13 1650,721.17 1651,721.21 1652,721.25 1653,721.3 1654,721.34 1655,721.38 1656,721.43 1657,721.47 1658,721.52 1659,721.57 1660,721.63 1661,721.68 1662,721.74 1663,721.8 1664,721.86 1665,721.93 1666,722 1667,722.08 1668,722.19 1669,722.31 1670,722.46 1671,722.61 1672,722.78 1673,722.95 1674,723.14 1675,723.32 1676,723.51 1677,723.7 1678,723.88 1679,724.06 1680,724.23 1681,724.39 1682,724.54 1683,724.67 1684,724.78 1685,724.87 1686,724.94 1687,724.99 1688,725 1689,725 1690,725 1691,725 1692,725 1693,725 1694,725 1695,725 1696,725 1697,725 1698,725 1699,725 1700,725 1701,725 1702,725 1703,725 1704,725 1705,725 1706,725 1707,725 1708,725 1709,725 1710,725 1711,725 1712,725 1713,725 1714,725 1715,725 1716,725 1717,725 1718,725 1719,725 1720,725 1721,725 1722,725 1723,725 1724,725 1725,725 1726,725 1727,725 1728,725 1729,725.01 1730,725.03 1731,725.07 1732,725.13 1733,725.19 1734,725.27 1735,725.36 1736,725.45 1737,725.55 1738,725.66 1739,725.77 1740,725.88 1741,726 1742,726.12 1743,726.23 1744,726.34 1745,726.45 1746,726.55 1747,726.64 1748,726.73 1749,726.81 1750,726.87 1751,726.93 1752,726.97 1753,726.99 1754,727 1755,727 1756,727 1757,727 1758,727 1759,727 1760,727 1761,727 1762,727 1763,727 1764,727 1765,727 1766,727 1767,727 1768,727 1769,727 1770,727 1771,727 1772,727 1773,727 1774,727 1775,727 1776,727 1777,727 1778,727 1779,727 1780,727 1781,727 1782,727 1783,727 1784,727 1785,727 1786,727 1787,727 1788,727 1789,727 1790,727 1791,727 1792,727 1793,727.01 1794,727.02 1795,727.04 1796,727.07 1797,727.11 1798,727.16 1799,727.21 1800,727.26 1801,727.32 1802,727.38 1803,727.44 1804,727.5 1805,727.56 1806,727.62 1807,727.68 1808,727.74 1809,727.79 1810,727.84 1811,727.89 1812,727.93 1813,727.96 1814,727.98 1815,727.99 1816,728 1817,728 1818,727.98 1819,727.96 1820,727.94 1821,727.91 1822,727.87 1823,727.83 1824,727.79 1825,727.74 1826,727.7 1827,727.66 1828,727.61 1829,727.57 1830,727.53 1831,727.49 1832,727.46 1833,727.44 1834,727.42 1835,727.4 1836,727.4 1837,727.4 1838,727.42 1839,727.44 1840,727.46 1841,727.49 1842,727.53 1843,727.57 1844,727.61 1845,727.66 1846,727.7 1847,727.74 1848,727.79 1849,727.83 1850,727.87 1851,727.91 1852,727.94 1853,727.96 1854,727.98 1855,728 1856,728 1857,728 1858,728 1859,728 1860,728 1861,728 1862,728 1863,728 1864,728 1865,728 1866,728 1867,728 1868,728 1869,728 1870,728 1871,728 1872,728 1873,728 1874,728 1875,728 1876,728 1877,728 1878,728 1879,728 1880,728 1881,728 1882,727.99 1883,727.97 1884,727.95 1885,727.93 1886,727.9 1887,727.87 1888,727.83 1889,727.8 1890,727.76 1891,727.72 1892,727.68 1893,727.64 1894,727.6 1895,727.56 1896,727.52 1897,727.49 1898,727.46 1899,727.43 1900,727.4 1901,727.38 1902,727.35 1903,727.32 1904,727.3 1905,727.27 1906,727.24 1907,727.22 1908,727.19 1909,727.16 1910,727.14 1911,727.12 1912,727.09 1913,727.07 1914,727.06 1915,727.04 1916,727.03 1917,727.02 1918,727.01 1919,727 1920,727 1921,727.01 1922,727.03 1923,727.06 1924,727.11 1925,727.17 1926,727.24 1927,727.31 1928,727.4 1929,727.49 1930,727.59 1931,727.7 1932,727.8 1933,727.92 1934,728.03 1935,728.15 1936,728.26 1937,728.38 1938,728.49 1939,728.6 1940,728.71 1941,728.81 1942,728.91 1943,729" fill="none" stroke="#FF3C3C" stroke-width="6" stroke-linejoin="round" stroke-linecap="butt"/>
<g fill="#FF0000">
<circle cx="253" cy="805.5" r="17.25"/>
<circle cx="316" cy="798.6" r="17.25"/>
<circle cx="379.4" cy="784.4" r="17.25"/>
<circle cx="442.5" cy="748.5" r="17.25"/>
<circle cx="506" cy="668.6" r="17.25"/>
<circle cx="569" cy="540" r="17.25"/>
<circle cx="632.5" cy="1260.4" r="17.25"/>
<circle cx="696" cy="1137" r="17.25"/>
<circle cx="759" cy="440" r="17.25"/>
<circle cx="822.4" cy="832" r="17.25"/>
<circle cx="885.5" cy="1050" r="17.25"/>
<circle cx="949" cy="988" r="17.25"/>
<circle cx="1013" cy="988" r="17.25"/>
<circle cx="1076.5" cy="989" r="17.25"/>
<circle cx="1140" cy="1009.5" r="17.25"/>
<circle cx="1203" cy="1050" r="17.25"/>
<circle cx="1266.7" cy="1128" r="17.25"/>
<circle cx="1329.6" cy="480.4" r="17.25"/>
<circle cx="1393" cy="610" r="17.25"/>
<circle cx="1456" cy="670" r="17.25"/>
<circle cx="1519.6" cy="698" r="17.25"/>
<circle cx="1583" cy="713" r="17.25"/>
<circle cx="1646" cy="721" r="17.25"/>
<circle cx="1709" cy="725" r="17.25"/>
<circle cx="1772" cy="727" r="17.25"/>
<circle cx="1836" cy="727.4" r="17.25"/>
<circle cx="1900" cy="727.4" r="17.25"/>
</g>
</g>
<path d="M249 730h14v14h-14zM274 730h14v14h-14zM299 730h14v14h-14zM324 730h14v14h-14zM349 730h14v14h-14zM374 730h14v14h-14zM399 730h14v14h-14zM424 730h14v14h-14zM449 730h14v14h-14zM474 730h14v14h-14zM499 730h14v14h-14zM524 730h14v14h-14zM549 730h14v14h-14zM574 730h14v14h-14zM599 730h14v14h-14zM624 730h14v14h-14zM649 730h14v14h-14zM674 730h14v14h-14zM699 730h14v14h-14zM724 730h14v14h-14zM749 730h14v14h-14zM774 730h14v14h-14zM799 730h14v14h-14zM824 730h14v14h-14zM849 730h14v14h-14zM874 730h14v14h-14zM899 730h14v14h-14zM924 730h14v14h-14zM949 730h14v14h-14zM974 730h14v14h-14zM999 730h14v14h-14zM1024 730h15v14h-15zM1050 730h14v14h-14zM1075 730h14v14h-14zM1100 730h14v14h-14zM1126 730h13v14h-13zM1151 730h13v14h-13zM1176 730h13v14h-13zM1201 730h13v14h-13zM1226 730h13v14h-13zM1251 730h13v14h-13zM1276 730h13v14h-13zM1301 730h13v14h-13zM1326 730h13v14h-13zM1351 730h13v14h-13zM1376 730h13v14h-13zM1401 730h13v14h-13zM1426 730h13v14h-13zM1451 730h13v14h-13zM1476 730h13v14h-13zM1501 730h13v14h-13zM1526 730h13v14h-13zM1551 730h13v14h-13zM1576 730h13v14h-13zM1601 730h13v14h-13zM1626 730h13v14h-13zM1651 730h13v14h-13zM1676 730h13v14h-13zM1701 730h13v14h-13zM1726 730h13v14h-13zM1751 730h13v14h-13zM1776 730h13v14h-13zM1801 730h13v14h-13zM1826 730h13v14h-13zM1852 730h13v14h-13zM1877 730h13v14h-13zM1902 730h13v14h-13z" fill="#FF0000"/>
<path d="M249 432h14v13h-14zM274 432h14v13h-14zM299 432h14v13h-14zM324 432h14v13h-14zM349 432h14v13h-14zM374 432h14v13h-14zM399 432h14v13h-14zM424 432h14v13h-14zM449 432h14v13h-14zM474 432h14v13h-14zM499 432h14v13h-14zM524 432h14v13h-14zM549 432h14v13h-14zM574 432h14v13h-14zM599 432h14v13h-14zM624 432h14v13h-14zM649 432h14v13h-14zM674 432h14v13h-14zM699 432h14v13h-14zM724 432h14v13h-14zM749 432h14v13h-14zM774 432h14v13h-14zM799 432h14v13h-14zM824 432h14v13h-14zM849 432h14v13h-14zM874 432h14v13h-14zM899 432h14v13h-14zM924 432h14v13h-14zM949 432h14v13h-14zM974 432h14v13h-14zM999 432h14v13h-14zM1024 432h15v13h-15zM1050 432h14v13h-14zM1075 432h14v13h-14zM1100 432h14v13h-14zM1126 432h13v13h-13zM1151 432h13v13h-13zM1176 432h13v13h-13zM1201 432h13v13h-13zM1226 432h13v13h-13zM1251 432h13v13h-13zM1276 432h13v13h-13zM1301 432h13v13h-13zM1326 432h13v13h-13zM1351 432h13v13h-13zM1376 432h13v13h-13zM1401 432h13v13h-13zM1426 432h13v13h-13zM1451 432h13v13h-13zM1476 432h13v13h-13zM1501 432h13v13h-13zM1526 432h13v13h-13zM1551 432h13v13h-13zM1576 432h13v13h-13zM1601 432h13v13h-13zM1626 432h13v13h-13zM1651 432h13v13h-13zM1676 432h13v13h-13zM1701 432h13v13h-13zM1726 432h13v13h-13zM1751 432h13v13h-13zM1776 432h13v13h-13zM1801 432h13v13h-13zM1826 432h13v13h-13zM1852 432h13v13h-13zM1877 432h13v13h-13zM1902 432h13v13h-13z" fill="#000"/>
<g stroke="#000" fill="none">
<line x1="588.4" y1="242.7" x2="679" y2="386.5" stroke-width="8.3"/>
<line x1="894" y1="118.3" x2="1017" y2="241" stroke-width="8.3"/>
<line x1="758" y1="575" x2="922" y2="575" stroke-width="8"/>
<line x1="1324" y1="546.5" x2="1532" y2="546.5" stroke-width="7"/>
<line x1="546.4" y1="686.3" x2="440" y2="921" stroke-width="8.3"/>
</g>
<text transform="translate(208.5,75) scale(0.946,1)" font-size="74" text-anchor="end">22</text>
<text transform="translate(208.5,417) scale(0.946,1)" font-size="74" text-anchor="end">20</text>
<text transform="translate(208.5,757) scale(0.946,1)" font-size="74" text-anchor="end">18</text>
<text transform="translate(208.5,1098) scale(0.946,1)" font-size="74" text-anchor="end">16</text>
<text transform="translate(208.5,1438) scale(0.946,1)" font-size="74" text-anchor="end">14</text>
<text transform="translate(254.2,1517.3) scale(0.946,1)" font-size="74" text-anchor="middle">0</text>
<text transform="translate(676,1517.3) scale(0.946,1)" font-size="74" text-anchor="middle">200</text>
<text transform="translate(1098,1517.3) scale(0.946,1)" font-size="74" text-anchor="middle">400</text>
<text transform="translate(1520,1517.3) scale(0.946,1)" font-size="74" text-anchor="middle">600</text>
<text transform="translate(1943.2,1517.3) scale(0.946,1)" font-size="74" text-anchor="middle">800</text>
<text transform="translate(1094.5,1620)" font-size="84.3" text-anchor="middle">Location (m)</text>
<text transform="translate(92.3,754) rotate(-90) scale(0.99,1)" font-size="84.3" text-anchor="middle">Stress (MPa)</text>
<text transform="translate(0,226.8) scale(0.95,1)" x="522.42 567.68" y="0" font-size="86">1#</text>
<text transform="translate(0,118) scale(0.95,1)" x="862.74 907.89" y="0" font-size="86">2#</text>
<text transform="translate(0,604.6) scale(0.95,1)" x="1000.53 1045.58" y="0" font-size="86">2#</text>
<text transform="translate(0,573) scale(0.95,1)" x="1638.11 1683.68" y="0" font-size="86">3#</text>
<text transform="translate(0,990.6) scale(0.95,1)" x="376.00 421.68" y="0" font-size="86">1#</text>
<rect x="1699.5" y="46.5" width="336" height="185" fill="#fff" stroke="#000" stroke-width="3"/>
<line x1="1706" y1="95" x2="1870" y2="95" stroke="#787878" stroke-width="6"/>
<rect x="1772" y="79.8" width="30" height="31" fill="#000"/>
<line x1="1706" y1="182" x2="1870" y2="182" stroke="#FF3C3C" stroke-width="6"/>
<circle cx="1787" cy="182.4" r="17.25" fill="#FF0000"/>
<text transform="translate(1886,119.1) scale(0.946,1)" font-size="74" text-anchor="start">x450</text>
<text transform="translate(1886,207.2) scale(0.946,1)" font-size="74" text-anchor="start">x500</text>
</svg>
</body></html>
